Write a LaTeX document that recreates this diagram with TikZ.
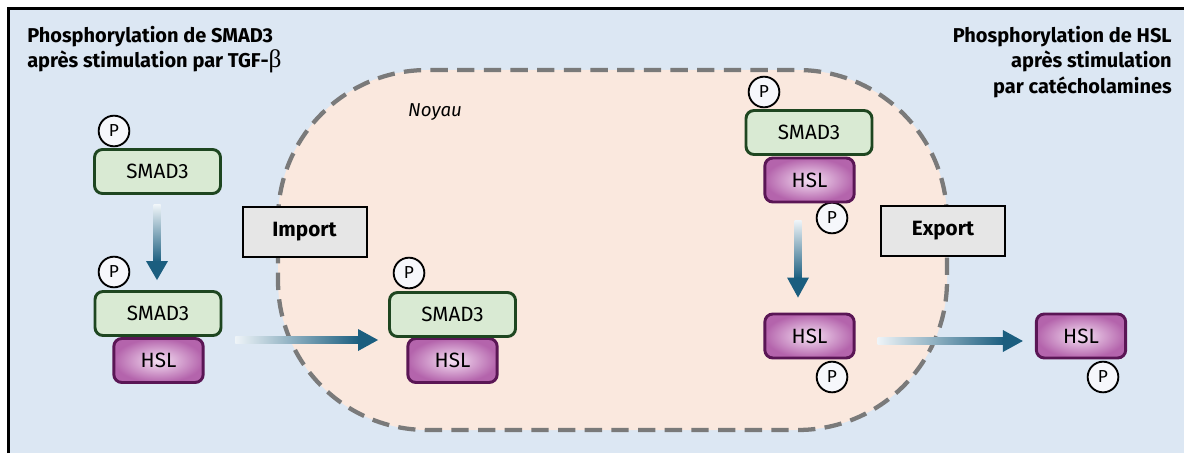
\documentclass[tikz,border=0pt]{standalone}
\usepackage{fontspec}
\setmainfont{Fira Sans}
\newfontfamily\betafont{Liberation Serif}
\usetikzlibrary{calc}

\definecolor{bgblue}{HTML}{DCE7F3}
\definecolor{nucfill}{HTML}{FAE8DE}
\definecolor{nucline}{HTML}{7A7A7A}
\definecolor{smadfill}{HTML}{D9EAD3}
\definecolor{smadline}{HTML}{1E4620}
\definecolor{hslin}{HTML}{F5E0F3}
\definecolor{hslout}{HTML}{B464AC}
\definecolor{hslline}{HTML}{5A1655}
\definecolor{arrowc}{HTML}{1B5E7F}
\definecolor{alight}{HTML}{EEF4F8}
\definecolor{boxfill}{HTML}{E6E6E6}
\definecolor{pfill}{HTML}{F6F7FB}

\begin{document}
\begin{tikzpicture}[x=0.75pt, y=-0.75pt,
  smad/.style={draw=smadline, line width=2.2pt, fill=smadfill, rounded corners=6pt,
    minimum width=94.5pt, minimum height=33pt, inner sep=0pt,
    font=\fontsize{15.5}{16}\selectfont},
  hsl/.style={draw=hslline, line width=2.2pt, inner color=hslin, outer color=hslout,
    rounded corners=6pt, minimum width=67pt, minimum height=33pt, inner sep=0pt,
    font=\fontsize{15.5}{16}\selectfont},
  phos/.style={circle, draw=black, line width=1.4pt, fill=pfill, minimum size=23pt,
    inner sep=0pt, font=\fontsize{13}{14}\selectfont},
  stepbox/.style={draw=black, line width=1.5pt, fill=boxfill, minimum width=93pt,
    minimum height=37.5pt, inner sep=0pt, font=\fontsize{15.5}{16}\selectfont\bfseries},
  title/.style={inner sep=0pt, font=\fontsize{15}{19}\selectfont\bfseries},
  shaft/.style={line width=0pt},
  head/.style={fill=arrowc}
]
\useasboundingbox (0,0) rectangle (1184,453);

% background and frame
\fill[bgblue] (8,8) rectangle (1184,453);
\draw[line width=2.2pt] (8.7,453) -- (8.7,8.7) -- (1184,8.7);

% nucleus
\draw[nucline, line width=3.2pt, dash pattern=on 13pt off 7pt, fill=nucfill,
  rounded corners=112pt] (278,70) rectangle (947,430);
\node[font=\fontsize{14}{16}\selectfont\itshape] (noyau) at (435,112) {Noyau};

% titles
\node[title, align=left, anchor=north west] (tl) at (27,26)
  {Phosphorylation de SMAD3\\après stimulation par TGF-{\betafont\fontsize{19}{18}\selectfont\mdseries β}};
\node[title, align=right, anchor=north east] (tr) at (1172,26)
  {Phosphorylation de HSL\\après stimulation\hspace*{5pt}\\par catécholamines};

% import / export
\node[stepbox] (import) at (304.5,231.5) {Import};
\node[stepbox] (export) at (943,231) {Export};

% left column: phosphorylated SMAD3, then SMAD3-HSL complex
\node[phos] (pA) at (114,131) {P};
\node[smad] (sA) at (157.5,171.5) {SMAD3};
\node[phos] (pB) at (114,272) {P};
\node[hsl] (hB) at (158.5,360.5) {HSL};
\node[smad] (sB) at (158,313.5) {SMAD3};

% complex inside the nucleus
\node[phos] (pC) at (409,273) {P};
\node[hsl] (hC) at (452.5,360.5) {HSL};
\node[smad] (sC) at (452.5,314.5) {SMAD3};

% complex with phosphorylated HSL
\node[phos] (pD) at (764,92) {P};
\node[phos] (pE) at (832,218) {P};
\node[hsl] (hD) at (809.5,180) {HSL};
\node[smad] (sD) at (809,132.5) {SMAD3};

% free phosphorylated HSL
\node[phos] (pF) at (832,377) {P};
\node[hsl] (hF) at (809.5,336) {HSL};
\node[phos] (pG) at (1103,377) {P};
\node[hsl] (hG) at (1081,336) {HSL};

% arrow: SMAD3 -> SMAD3-HSL
\coordinate (a1s) at ($(sA.south)+(-0.5,10)$);
\coordinate (a1e) at ($(sB.north)+(-1,-10)$);
\shade[top color=alight, bottom color=arrowc, shaft] ($(a1s)+(-3.5,0)$) rectangle ($(a1e)+(3.5,-18)$);
\fill[head] ($(a1e)+(-11,-19)$) -- ($(a1e)+(11,-19)$) -- (a1e) -- cycle;

% arrow: import into the nucleus
\coordinate (a2s) at ($(sB.east)+(13,26.5)$);
\coordinate (a2e) at ($(sC.west)+(-10,25.5)$);
\shade[left color=alight, right color=arrowc, shaft] ($(a2s)+(0,-3.5)$) rectangle ($(a2e)+(-19,3.5)$);
\fill[head] ($(a2e)+(-20,-11)$) -- ($(a2e)+(-20,11)$) -- (a2e) -- cycle;

% arrow: dissociation of the complex
\coordinate (a3s) at ($(hD.south)+(-11.5,17)$);
\coordinate (a3e) at ($(hF.north)+(-11.5,-15)$);
\shade[top color=alight, bottom color=arrowc, shaft] ($(a3s)+(-3.5,0)$) rectangle ($(a3e)+(3.5,-19)$);
\fill[head] ($(a3e)+(-11,-20)$) -- ($(a3e)+(11,-20)$) -- (a3e) -- cycle;

% arrow: export out of the nucleus
\coordinate (a4s) at ($(hF.east)+(22,5)$);
\coordinate (a4e) at ($(hG.west)+(-12,5)$);
\shade[left color=alight, right color=arrowc, shaft] ($(a4s)+(0,-3.5)$) rectangle ($(a4e)+(-19,3.5)$);
\fill[head] ($(a4e)+(-20,-11)$) -- ($(a4e)+(-20,11)$) -- (a4e) -- cycle;
\end{tikzpicture}
\end{document}
